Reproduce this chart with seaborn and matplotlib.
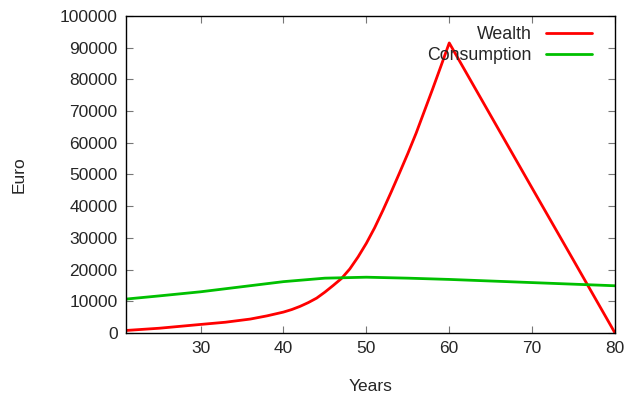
import pandas as pd
import matplotlib
matplotlib.use("Agg")
import matplotlib.pyplot as plt
import seaborn as sns

# Dados
years = [21, 25, 30, 33, 36, 38, 40, 41, 42, 43, 44, 45, 46, 47, 48, 49, 50,
         51, 52, 53, 54, 55, 56, 57, 58, 59, 60, 65, 70, 75, 80]
wealth = [800, 1500, 2700, 3400, 4400, 5400, 6600, 7400, 8400, 9600, 11000,
          12900, 15000, 17200, 20200, 24000, 28300, 33200, 38700, 44500, 50500,
          56600, 63000, 70000, 77000, 84200, 91500, 68600, 45700, 22900, 0]

cons_years = [21, 25, 30, 35, 40, 45, 50, 55, 60, 65, 70, 75, 80]
consumption = [10700, 11700, 13000, 14600, 16200, 17300, 17600, 17300, 16900,
               16400, 15900, 15400, 14900]

sns.set_style("ticks")
plt.rcParams['font.family'] = ['Liberation Sans', 'DejaVu Sans']
plt.rcParams['font.size'] = 12.5

df_w = pd.DataFrame({'Years': years, 'Euro': wealth})
df_c = pd.DataFrame({'Years': cons_years, 'Euro': consumption})

fig = plt.figure(figsize=(6.25, 4.03), dpi=100)
ax = fig.add_axes([0.2016, 0.1737, 0.7824, 0.7866])

sns.lineplot(data=df_w, x='Years', y='Euro', color='#ff0000', lw=2, label='Wealth', ax=ax)
sns.lineplot(data=df_c, x='Years', y='Euro', color='#00c000', lw=2, label='Consumption', ax=ax)

ax.set_xlim(21, 80)
ax.set_ylim(0, 100000)
ax.set_xticks([30, 40, 50, 60, 70, 80])
ax.set_yticks(range(0, 100001, 10000))
ax.tick_params(direction='in', length=5, top=True, right=True, color='#777777',
               labelsize=12.5, pad=6)
for s in ax.spines.values():
    s.set_color('black')
    s.set_linewidth(1)

ax.set_xlabel('Years', fontsize=12.5, labelpad=16)
ax.set_ylabel('Euro', fontsize=12.5)
ax.yaxis.set_label_coords(-0.203, 0.5)

ax.legend(loc='upper right', frameon=False, markerfirst=False, handlelength=2.6,
          fontsize=12.8, borderaxespad=0.3, labelspacing=0.25, bbox_to_anchor=(0.978, 1.008))

plt.savefig('out.png', dpi=100)
